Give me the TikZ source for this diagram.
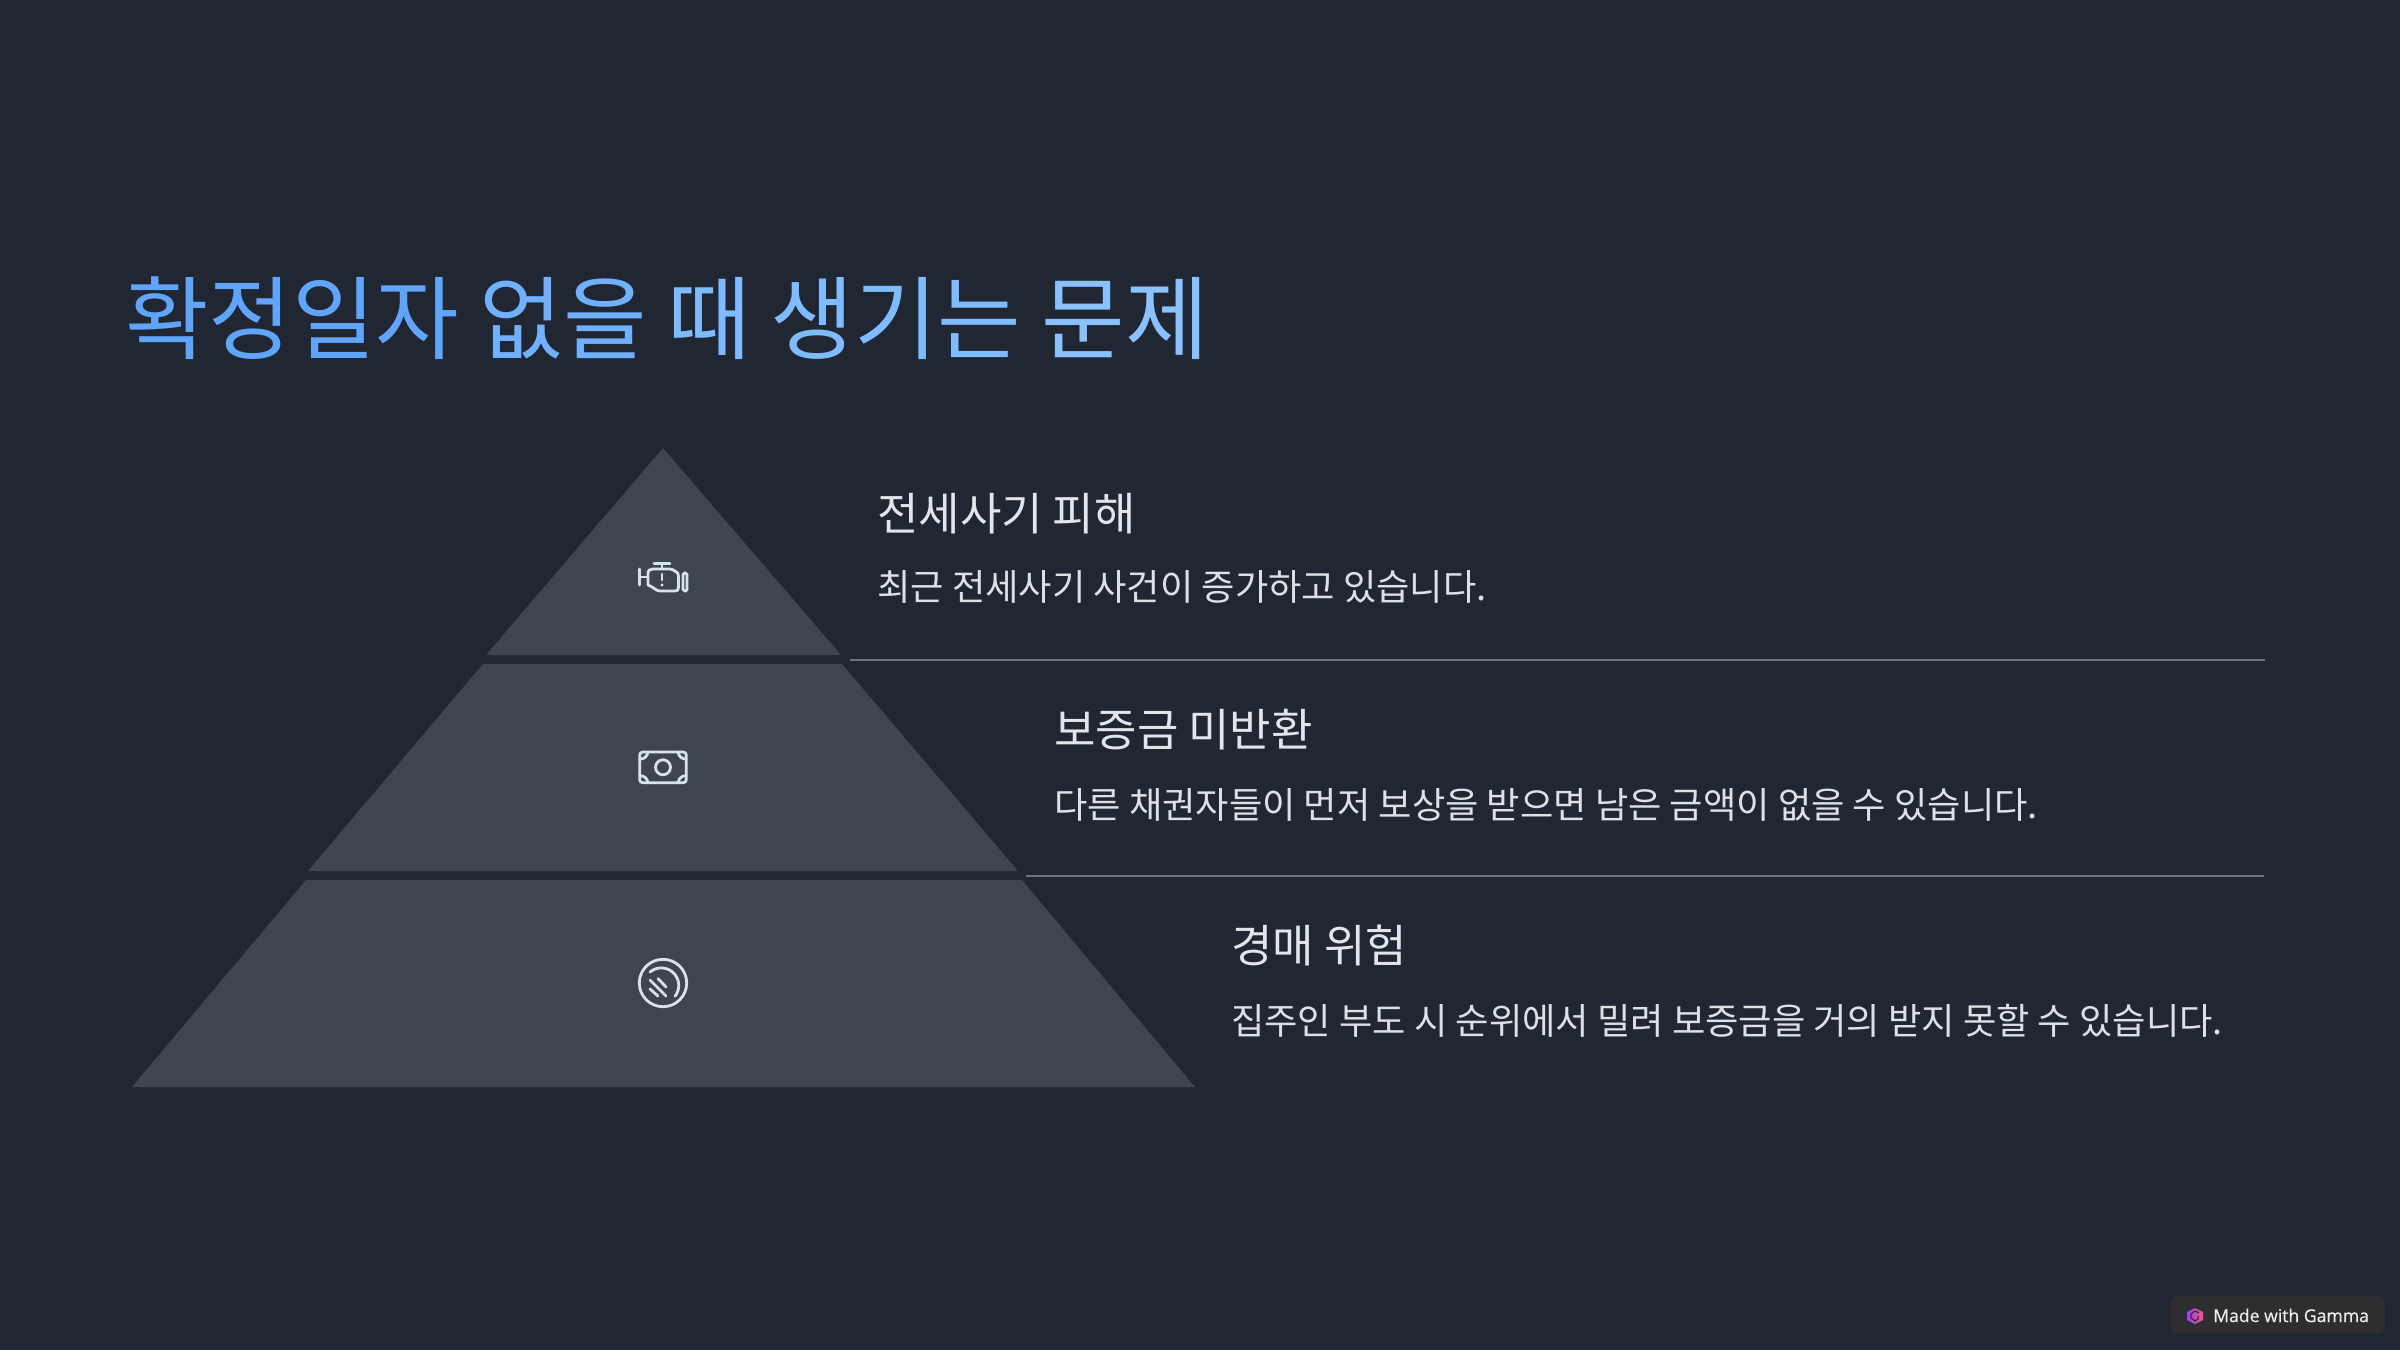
\documentclass[tikz,border=0pt]{standalone}
\usepackage{fontspec}
\setmainfont{Noto Sans CJK KR}
\newfontfamily\badgefont[FakeBold=0.6]{Open Sans}
\definecolor{bgdark}{HTML}{202733}
\definecolor{tierfill}{HTML}{3F4550}
\definecolor{iconline}{HTML}{D5E3EE}
\definecolor{ruleline}{HTML}{6B7280}
\definecolor{headtext}{HTML}{E2E6EB}
\definecolor{bodytext}{HTML}{DDE1E6}
\definecolor{titleA}{HTML}{60A5FA}
\definecolor{titleB}{HTML}{70B0FC}
\definecolor{titleC}{HTML}{7FBCFF}
\definecolor{titleD}{HTML}{8AC2FF}
\definecolor{badgefill}{HTML}{2E2E30}
\definecolor{logoA}{HTML}{A23DF0}
\definecolor{logoB}{HTML}{F0558A}
\tikzset{
  tier/.style={fill=tierfill},
  headlabel/.style={anchor=base west, inner sep=0pt, text=headtext, font=\fontsize{45}{45}\selectfont},
  bodylabel/.style={anchor=base west, inner sep=0pt, text=bodytext, font=\fontsize{36.25}{36.25}\selectfont},
  rulelabel/.style={draw=ruleline, line width=1.6pt},
  iconstroke/.style={draw=iconline, line width=2.8pt, line cap=round, line join=round},
}
\begin{document}
\begin{tikzpicture}[x=1pt, y=-1pt]
  \useasboundingbox (0,0) rectangle (2400,1349.5);
  \fill[bgdark] (-5,-5) rectangle (2405,1355);
  % title
  \node[anchor=base west, inner sep=0pt, font=\fontsize{90.8}{90.8}\selectfont] (title) at (125,352)
    {\textcolor{titleA}{확정일자} \textcolor{titleB}{없을} \textcolor{titleC}{때 생기는} \textcolor{titleD}{문제}};
  % pyramid
  \fill[tier] (663,448) -- (841,655) -- (486,655) -- cycle;
  \fill[tier] (483,664) -- (842,664) -- (1018,871) -- (308,871) -- cycle;
  \fill[tier] (306,880) -- (1022,880) -- (1195,1087) -- (132,1087) -- cycle;
  % rules
  \coordinate (ruleAa) at (850,660);
  \coordinate (ruleAb) at (2265,660);
  \coordinate (ruleBa) at (1026,876);
  \coordinate (ruleBb) at (2264,876);
  \draw[rulelabel] (ruleAa) -- (ruleAb);
  \draw[rulelabel] (ruleBa) -- (ruleBb);
  % labels
  \node[headlabel] (headA) at (877,530) {전세사기 피해};
  \node[bodylabel] (bodyA) at (877,600) {최근 전세사기 사건이 증가하고 있습니다.};
  \node[headlabel] (headB) at (1054,746) {보증금 미반환};
  \node[bodylabel] (bodyB) at (1054,818) {다른 채권자들이 먼저 보상을 받으면 남은 금액이 없을 수 있습니다.};
  \node[headlabel] (headC) at (1231,962) {경매 위험};
  \node[bodylabel] (bodyC) at (1231,1034) {집주인 부도 시 순위에서 밀려 보증금을 거의 받지 못할 수 있습니다.};
  % engine icon
  \begin{scope}[shift={(600,520)}, iconstroke]
    \draw (39.5,49) -- (39.5,65);
    \draw (39.5,57) -- (48,57);
    \draw (54,43.5) -- (70,43.5);
    \draw (62,43.5) -- (62,49);
    \draw (48,54) .. controls (48,50) and (50,49) .. (53,49) -- (70,49)
      .. controls (72,49) and (73,50) .. (75,51) .. controls (78,52) and (78.5,54) .. (78.5,57)
      -- (78.5,67) .. controls (78.5,70) and (77.5,71) .. (75,71) -- (60,71)
      .. controls (56,71) and (55,68) .. (52,67) -- (48,65) -- cycle;
    \draw (62,54) -- (62,60);
    \fill[iconline, draw=none] (62,65) circle (1.7pt);
    \draw[rounded corners=1.5pt] (83,53) rectangle (87,71);
  \end{scope}
  % money icon
  \begin{scope}[shift={(620,730)}, iconstroke]
    \draw[rounded corners=3pt] (19.7,22) rectangle (66.3,52.7);
    \draw (43,37.3) circle (7.5pt);
    \draw (19.7,29) .. controls (24,29) and (27,27) .. (28,22);
    \draw (66.3,29) .. controls (62,29) and (59,27) .. (58,22);
    \draw (19.7,45.7) .. controls (24,45.7) and (27,47.7) .. (28,52.7);
    \draw (66.3,45.7) .. controls (62,45.7) and (59,47.7) .. (58,52.7);
  \end{scope}
  % coin icon
  \begin{scope}[shift={(620,945)}, iconstroke]
    \draw (43,38) circle (23.7pt);
    \draw (30,27) arc (130:-38:17.5pt);
    \draw (30,35) -- (46,51);
    \draw (38,33.5) -- (46,42);
    \draw (30,44) -- (38,51);
  \end{scope}
  % badge
  \fill[badgefill, rounded corners=7pt] (2171,1296) rectangle (2385,1334);
  \shade[left color=logoA, right color=logoB, draw=none] (2187,1312) -- (2195,1308) -- (2203,1312) -- (2203,1320) -- (2195,1324) -- (2187,1320) -- cycle;
  \draw[badgefill, line width=1.2pt] (2199,1313) -- (2195,1311) -- (2191,1314) -- (2191,1318) -- (2195,1321) -- (2198,1319) -- (2198,1316);
  \node[anchor=base west, inner sep=0pt, text=white!93!black, font=\badgefont\fontsize{17.6}{17.6}\selectfont] (badge) at (2213,1322) {Made with Gamma};
\end{tikzpicture}
\end{document}
